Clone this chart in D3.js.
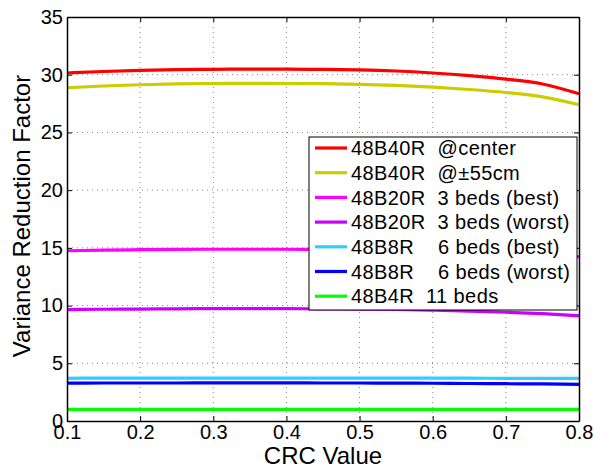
<!DOCTYPE html>
<html>
<head>
<meta charset="utf-8">
<script src="https://cdn.jsdelivr.net/npm/d3@7"></script>
<style>
body { margin: 0; background: #fff; }
text { font-family: "Liberation Sans", Arial, sans-serif; fill: #000; }
</style>
</head>
<body>
<svg id="chart" width="594" height="468"></svg>
<script>
// CRC sample points and the variance reduction factor of each scanner setup
var crc = [0.1,0.15,0.2,0.25,0.3,0.35,0.4,0.45,0.5,0.55,0.6,0.65,0.7,0.75,0.8];
var center40 = [30.15,30.28,30.38,30.44,30.47,30.48,30.48,30.46,30.42,30.32,30.15,29.92,29.62,29.2,28.35];
var off40 = [28.87,29.02,29.13,29.2,29.24,29.25,29.24,29.22,29.17,29.07,28.92,28.72,28.46,28.08,27.4];
var best20 = [14.75,14.8,14.84,14.86,14.88,14.88,14.88,14.87,14.85,14.8,14.72,14.63,14.52,14.4,14.23];
var worst20 = [9.65,9.68,9.7,9.72,9.73,9.73,9.73,9.72,9.7,9.66,9.6,9.52,9.42,9.3,9.12];
var best8 = [3.7,3.71,3.71,3.71,3.71,3.71,3.71,3.71,3.71,3.71,3.71,3.71,3.7,3.7,3.69];
var worst8 = [3.28,3.29,3.29,3.29,3.3,3.3,3.3,3.29,3.29,3.28,3.27,3.25,3.23,3.21,3.18];
var beds11 = [1,1,1,1,1,1,1,1,1,1,1,1,1,1,1];

var names = ['48B40R  @center','48B40R  @\u00b155cm','48B20R  3 beds (best)','48B20R  3 beds (worst)',
	'48B8R    6 beds (best)','48B8R    6 beds (worst)','48B4R  11 beds'];
var colors = ['#ff0000','#cccc00','#ff00ff','#cc00ff','#33ccff','#0000ff','#00ff00'];
var seriesData = [center40, off40, best20, worst20, best8, worst8, beds11];

var xTicks = [0.1,0.2,0.3,0.4,0.5,0.6,0.7,0.8];
var yTicks = [0,5,10,15,20,25,30,35];

var plotL = 67, plotR = 579, plotT = 17, plotB = 421;
var svg = d3.select("#chart");

var x = d3.scaleLinear().domain([0.1, 0.8]).range([plotL, plotR]);
var y = d3.scaleLinear().domain([0, 35]).range([plotB, plotT]);

// dotted grid
svg.append("g").selectAll("line").data(xTicks.slice(1, -1)).join("line")
	.attr("x1", d => x(d)).attr("x2", d => x(d))
	.attr("y1", plotT).attr("y2", plotB)
	.attr("stroke", "#888").attr("stroke-width", 1).attr("stroke-dasharray", "1,4");
svg.append("g").selectAll("line").data(yTicks.slice(1, -1)).join("line")
	.attr("x1", plotL).attr("x2", plotR)
	.attr("y1", d => y(d)).attr("y2", d => y(d))
	.attr("stroke", "#888").attr("stroke-width", 1).attr("stroke-dasharray", "1,4");

// lines
var line = d3.line().x((d, i) => x(crc[i])).y(d => y(d)).curve(d3.curveMonotoneX);
svg.append("g").selectAll("path").data(seriesData).join("path")
	.attr("d", line)
	.attr("fill", "none")
	.attr("stroke", (d, i) => colors[i])
	.attr("stroke-width", 3.2);

// axes with inward ticks on all sides
var tickFmt = d3.format(".1f");
var xb = svg.append("g").attr("transform", "translate(0," + plotB + ")")
	.call(d3.axisBottom(x).tickValues(xTicks).tickSizeInner(-5).tickSizeOuter(0).tickPadding(6).tickFormat(tickFmt));
var xt = svg.append("g").attr("transform", "translate(0," + plotT + ")")
	.call(d3.axisTop(x).tickValues(xTicks).tickSizeInner(-5).tickSizeOuter(0).tickFormat(""));
var yl = svg.append("g").attr("transform", "translate(" + plotL + ",0)")
	.call(d3.axisLeft(y).tickValues(yTicks).tickSizeInner(-5).tickSizeOuter(0));
var yr = svg.append("g").attr("transform", "translate(" + plotR + ",0)")
	.call(d3.axisRight(y).tickValues(yTicks).tickSizeInner(-5).tickSizeOuter(0).tickFormat(""));

[xb, xt, yl, yr].forEach(function(g) {
	g.select(".domain").attr("stroke", "#000").attr("stroke-width", 1.5);
	g.selectAll(".tick line").attr("stroke", "#000").attr("stroke-width", 1);
	g.selectAll("text").style("font-size", "20px").attr("font-family", null);
});
xb.selectAll("text").attr("dy", "0.6em");
yl.selectAll("text").attr("x", -4);

// axis titles
svg.append("text").attr("x", (plotL + plotR) / 2).attr("y", 464)
	.attr("text-anchor", "middle").style("font-size", "24px").text("CRC Value");
svg.append("text").attr("transform", "translate(30,216) rotate(-90)")
	.attr("text-anchor", "middle").style("font-size", "24px").text("Variance Reduction Factor");

// legend
var lg = svg.append("g").attr("transform", "translate(309,137)");
lg.append("rect").attr("width", 268).attr("height", 173)
	.attr("fill", "#fff").attr("stroke", "#000").attr("stroke-width", 1);
var rows = lg.selectAll("g.row").data(names).join("g").attr("class", "row")
	.attr("transform", (d, i) => "translate(0," + (11 + i * 24.7) + ")");
rows.append("line").attr("x1", 6).attr("x2", 38)
	.attr("stroke", (d, i) => colors[i]).attr("stroke-width", 3.2);
rows.append("text").attr("x", 42).attr("dy", "0.36em")
	.style("font-size", "20px").style("letter-spacing", "0.4px").style("white-space", "pre").text(d => d);
</script>
</body>
</html>
